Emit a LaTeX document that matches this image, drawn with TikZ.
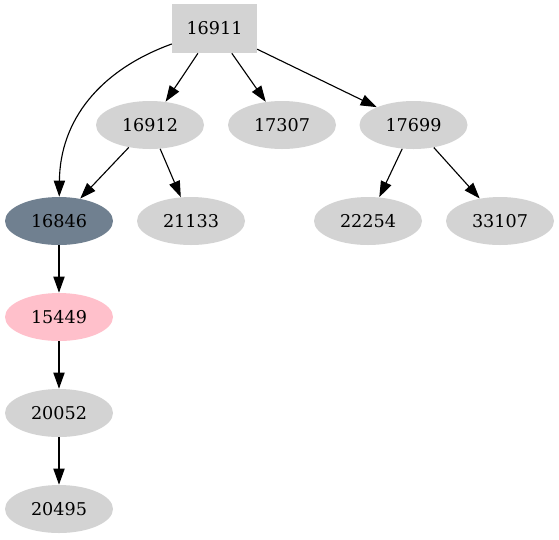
\documentclass[tikz,border=0pt]{standalone}
\usepackage{fontspec}
\setmainfont{DejaVu Serif}
\usetikzlibrary{arrows.meta,shapes.geometric}
\definecolor{nodegray}{HTML}{D3D3D3}
\definecolor{slate}{HTML}{708090}
\definecolor{rose}{HTML}{FFC0CB}
\tikzset{
  oval/.style={ellipse, draw=none, fill=nodegray, inner sep=0pt, minimum width=67.5pt, minimum height=30pt, font=\fontsize{11}{13}\selectfont},
  rootbox/.style={rectangle, draw=none, fill=nodegray, inner sep=0pt, minimum width=53pt, minimum height=30.6pt, font=\fontsize{11}{13}\selectfont},
  focus/.style={oval, fill=slate},
  hit/.style={oval, fill=rose},
  arr/.style={-{Triangle[length=10pt, width=7pt]}, line width=0.7pt, black}}

\begin{document}
\begin{tikzpicture}[x=0.625pt, y=-0.625pt]
\useasboundingbox (0,0) rectangle (559,539);
\node[rootbox] (n16911) at (214.5,28.5) {16911};
\node[oval] (n16912) at (150,125) {16912};
\node[oval] (n17307) at (282,125) {17307};
\node[oval] (n17699) at (413.5,125) {17699};
\node[focus] (n16846) at (59,221) {16846};
\node[oval] (n21133) at (191,221) {21133};
\node[oval] (n22254) at (368,221) {22254};
\node[oval] (n33107) at (500,221) {33107};
\node[hit] (n15449) at (59,317) {15449};
\node[oval] (n20052) at (59,413) {20052};
\node[oval] (n20495) at (59,509) {20495};
\draw[arr] (n16911) .. controls (100,70) and (60,120) .. (n16846);
\draw[arr] (n16911) -- (n16912); \draw[arr] (n16911) -- (n17307); \draw[arr] (n16911) -- (n17699);
\draw[arr] (n16912) -- (n16846); \draw[arr] (n16912) -- (n21133);
\draw[arr] (n17699) -- (n22254); \draw[arr] (n17699) -- (n33107);
\draw[arr] (n16846) -- (n15449); \draw[arr] (n15449) -- (n20052); \draw[arr] (n20052) -- (n20495);
\end{tikzpicture}
\end{document}
